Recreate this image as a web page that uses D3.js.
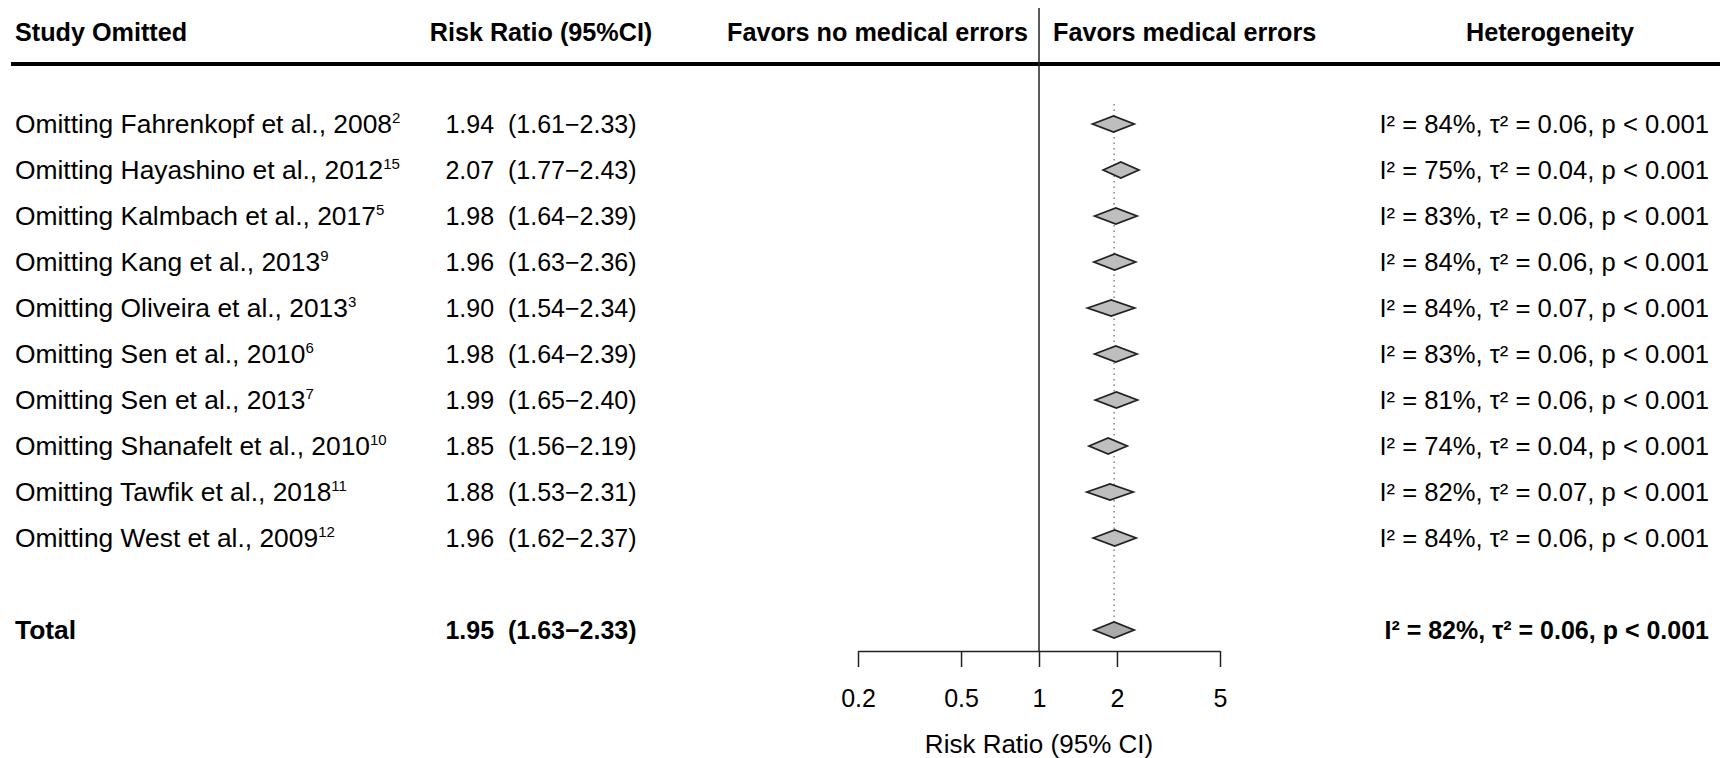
<!DOCTYPE html>
<html>
<head>
<meta charset="utf-8">
<script src="https://cdn.jsdelivr.net/npm/d3@7"></script>
<style>
  html, body { margin: 0; padding: 0; background: #fff; }
  svg { display: block; font-family: "Liberation Sans", Arial, sans-serif; }
  text { fill: #000; white-space: pre; }
</style>
</head>
<body>
<svg id="chart" width="1720" height="758"></svg>
<script>
// ---- data ----
const studies = ["Fahrenkopf et al., 2008", "Hayashino et al., 2012", "Kalmbach et al., 2017",
  "Kang et al., 2013", "Oliveira et al., 2013", "Sen et al., 2010", "Sen et al., 2013",
  "Shanafelt et al., 2010", "Tawfik et al., 2018", "West et al., 2009"];
const refs = ["2", "15", "5", "9", "3", "6", "7", "10", "11", "12"];
const rr = [1.94, 2.07, 1.98, 1.96, 1.90, 1.98, 1.99, 1.85, 1.88, 1.96];
const lower = [1.61, 1.77, 1.64, 1.63, 1.54, 1.64, 1.65, 1.56, 1.53, 1.62];
const upper = [2.33, 2.43, 2.39, 2.36, 2.34, 2.39, 2.40, 2.19, 2.31, 2.37];
const i2 = [84, 75, 83, 84, 84, 83, 81, 74, 82, 84];
const tau2 = [0.06, 0.04, 0.06, 0.06, 0.07, 0.06, 0.06, 0.04, 0.07, 0.06];
const total = { rr: 1.95, lower: 1.63, upper: 2.33, i2: 82, tau2: 0.06 };
const tickValues = [0.2, 0.5, 1, 2, 5];
const tickLabels = ["0.2", "0.5", "1", "2", "5"];

// ---- layout ----
const svg = d3.select("#chart");
const FS = 25, FS_HDR = 25.2, FS_LAB = 26.4, FS_HET = 25.6, FS_HET_B = 25, FS_TITLE = 26;
const x = d3.scaleLog().domain([0.2, 5]).range([858, 1220]);
const y = d3.scaleLinear().domain([0, 11]).range([124, 630]);
const axisY = 651;
const colLabel = 15, colRR = 541, colHetRight = 1709, colHetCenter = 1550;
const f2 = d3.format(".2f");
const diamondH = 8;

// header
const hdr = svg.append("g").attr("font-size", FS_HDR).attr("font-weight", "bold");
hdr.append("text").attr("x", colLabel).attr("y", 41).text("Study Omitted");
hdr.append("text").attr("x", colRR).attr("y", 41).attr("text-anchor", "middle").text("Risk Ratio (95%CI)");
hdr.append("text").attr("x", x(1) - 11).attr("y", 41).attr("text-anchor", "end").text("Favors no medical errors");
hdr.append("text").attr("x", x(1) + 14).attr("y", 41).text("Favors medical errors");
hdr.append("text").attr("x", colHetCenter).attr("y", 41).attr("text-anchor", "middle").text("Heterogeneity");

// thick rule
svg.append("line").attr("x1", 11).attr("x2", 1720).attr("y1", 64).attr("y2", 64)
  .attr("stroke", "#000").attr("stroke-width", 4);

// null line
svg.append("line").attr("x1", x(1)).attr("x2", x(1)).attr("y1", 8).attr("y2", axisY)
  .attr("stroke", "#222").attr("stroke-width", 1.5);

// pooled dotted line
svg.append("line").attr("x1", x(total.rr)).attr("x2", x(total.rr))
  .attr("y1", y(0) - 20).attr("y2", y(11) - diamondH)
  .attr("stroke", "#444").attr("stroke-width", 1).attr("stroke-dasharray", "1.5,4");

// rows
const rows = studies.map((s, i) => ({ s, ref: refs[i], rr: rr[i], lo: lower[i], hi: upper[i], i2: i2[i], tau2: tau2[i], idx: i }));
const g = svg.append("g").attr("font-size", FS);

const lab = g.selectAll("text.lab").data(rows).enter().append("text")
  .attr("class", "lab").attr("x", colLabel).attr("y", d => y(d.idx) + 9).attr("font-size", FS_LAB);
lab.append("tspan").text(d => "Omitting " + d.s);
lab.append("tspan").attr("font-size", 15).attr("dy", -10).text(d => d.ref);

g.selectAll("text.rr").data(rows).enter().append("text")
  .attr("class", "rr").attr("x", colRR).attr("y", d => y(d.idx) + 9).attr("text-anchor", "middle")
  .text(d => f2(d.rr) + "  (" + f2(d.lo) + "\u2212" + f2(d.hi) + ")");

g.selectAll("text.het").data(rows).enter().append("text")
  .attr("class", "het").attr("x", colHetRight).attr("y", d => y(d.idx) + 9).attr("text-anchor", "end")
  .attr("font-size", FS_HET)
  .text(d => "I\u00b2 = " + d.i2 + "%, \u03c4\u00b2 = " + f2(d.tau2) + ", p < 0.001");

const diamond = (c, lo, hi, yy) => {
  return `M${x(lo)},${yy} L${x(c)},${yy - diamondH} L${x(hi)},${yy} L${x(c)},${yy + diamondH} Z`;
};
g.selectAll("path.dia").data(rows).enter().append("path")
  .attr("class", "dia").attr("d", d => diamond(d.rr, d.lo, d.hi, y(d.idx)))
  .attr("fill", "#bebebe").attr("stroke", "#222").attr("stroke-width", 1.8);

// total row
const tg = svg.append("g").attr("font-size", FS).attr("font-weight", "bold");
tg.append("text").attr("x", colLabel).attr("y", y(11) + 9).attr("font-size", FS_LAB).text("Total");
tg.append("text").attr("x", colRR).attr("y", y(11) + 9).attr("text-anchor", "middle")
  .text(f2(total.rr) + "  (" + f2(total.lower) + "\u2212" + f2(total.upper) + ")");
tg.append("text").attr("x", colHetRight).attr("y", y(11) + 9).attr("text-anchor", "end")
  .attr("font-size", FS_HET_B)
  .text("I\u00b2 = " + total.i2 + "%, \u03c4\u00b2 = " + f2(total.tau2) + ", p < 0.001");
svg.append("path").attr("d", diamond(total.rr, total.lower, total.upper, y(11)))
  .attr("fill", "#aaaaaa").attr("stroke", "#222").attr("stroke-width", 1.8);

// axis
const axis = d3.axisBottom(x).tickValues(tickValues)
  .tickFormat((d, i) => tickLabels[i]).tickSize(16).tickSizeOuter(0).tickPadding(22);
const ax = svg.append("g").attr("transform", `translate(0,${axisY})`).call(axis);
ax.select(".domain").attr("stroke", "#222").attr("stroke-width", 1.5);
ax.selectAll(".tick line").attr("stroke", "#222").attr("stroke-width", 1.5);
ax.selectAll(".tick text").attr("font-size", FS).attr("fill", "#000")
  .attr("font-family", "\"Liberation Sans\", Arial, sans-serif");

svg.append("text").attr("x", x(1)).attr("y", 753).attr("text-anchor", "middle")
  .attr("font-size", FS_TITLE).text("Risk Ratio (95% CI)");
</script>
</body>
</html>
